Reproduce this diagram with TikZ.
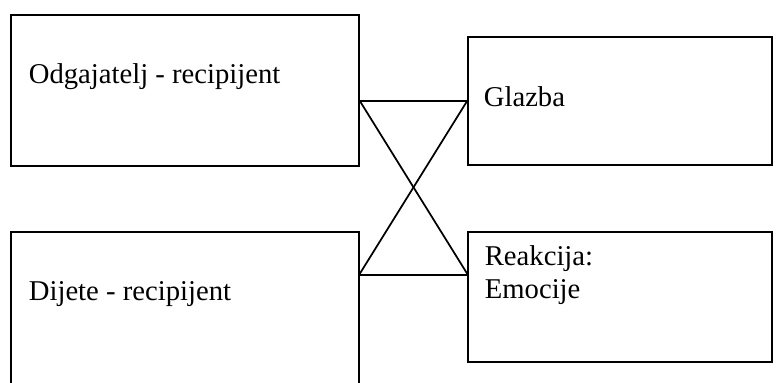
\documentclass[tikz,border=0pt]{standalone}
\usepackage{fontspec}
\setmainfont{Liberation Serif}
\begin{document}
\begin{tikzpicture}[x=0.75pt, y=-0.75pt, line width=1.3pt,
            box/.style={draw, inner sep=0pt},
            lbl/.style={anchor=base west, inner sep=0pt, align=left, font=\fontsize{21.5}{24.75}\selectfont}]
            \clip (0,0) rectangle (781,382);
            \node[box, minimum width=261pt, minimum height=113.25pt] (1) at (185,90.5) {};
            \node[box, minimum width=228pt, minimum height=96pt] (2) at (620,101) {};
            \node[box, minimum width=261pt, minimum height=114.75pt] (3) at (185,308.5) {};
            \node[box, minimum width=228pt, minimum height=97.5pt] (4) at (620,297) {};
            \node[lbl] (t1) at (28,83) {Odgajatelj - recipijent};
            \node[lbl] (t2) at (483,106) {Glazba};
            \node[lbl] (t3) at (28,300) {Dijete - recipijent};
            \node[lbl] (t4) at (484,298) {Reakcija:\\Emocije};
            \coordinate (a) at (1.east |- 2.west);
            \coordinate (b) at (359,275);
            \coordinate (c) at (468,275);
            \path
            (a) edge (2.west)
            (a) edge (c)
            (b) edge (2.west)
            (b) edge (c);
        \end{tikzpicture}
\end{document}
